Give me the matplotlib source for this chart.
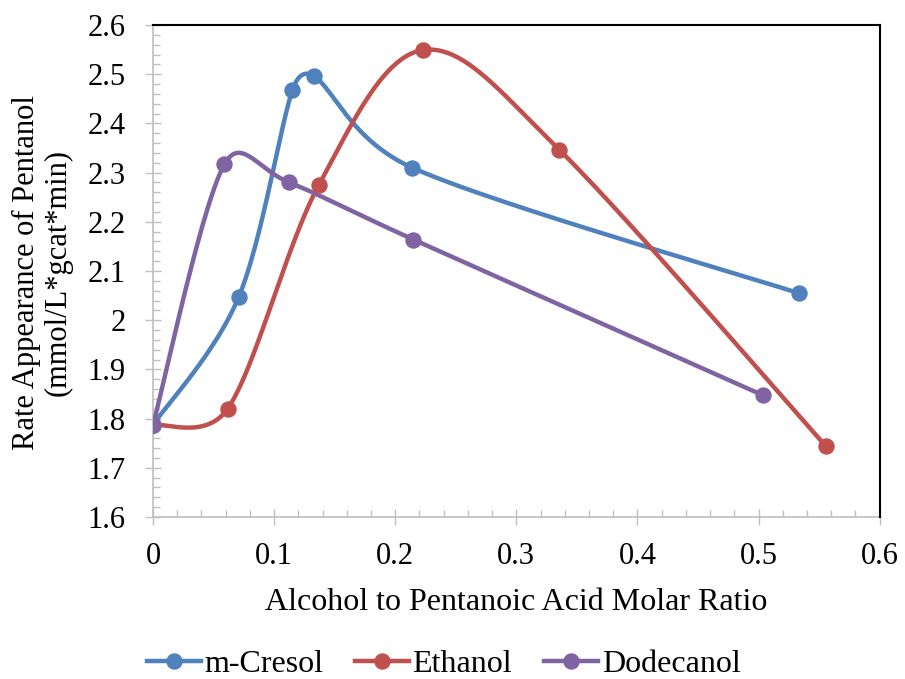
import numpy as np
import matplotlib.pyplot as plt
from matplotlib.ticker import MultipleLocator, FuncFormatter
from matplotlib.lines import Line2D

# data
cresol_x = [0, 0.0708, 0.1152, 0.133, 0.214, 0.533]
cresol_y = [1.787, 2.047, 2.468, 2.496, 2.310, 2.055]

ethanol_x = [0, 0.0617, 0.137, 0.2228, 0.3356, 0.5556]
ethanol_y = [1.787, 1.820, 2.275, 2.549, 2.346, 1.744]

dodecanol_x = [0, 0.059, 0.1125, 0.215, 0.504]
dodecanol_y = [1.787, 2.317, 2.280, 2.164, 1.847]

series = [
    ('m-Cresol', cresol_x, cresol_y, '#4F81BD'),
    ('Ethanol', ethanol_x, ethanol_y, '#C0504D'),
    ('Dodecanol', dodecanol_x, dodecanol_y, '#8064A2'),
]


def excel_smooth(ax, x, y, n=50):
    # Excel-like smoothed line: bezier, arm = min(d02/6, d12/2), done in screen space
    p = ax.transData.transform(np.column_stack([x, y]))
    m = len(p)
    t = np.linspace(0, 1, n)[1:, None]
    pts = [p[0]]
    for i in range(m - 1):
        p0 = p[i - 1] if i > 0 else p[i]
        p1, p2 = p[i], p[i + 1]
        p3 = p[i + 2] if i + 2 < m else p[i + 1]
        d12 = np.hypot(*(p2 - p1))
        d02 = np.hypot(*(p2 - p0))
        d13 = np.hypot(*(p3 - p1))
        f1 = min(1 / 6, d12 / (2 * d02)) if d02 > 0 else 0
        f2 = min(1 / 6, d12 / (2 * d13)) if d13 > 0 else 0
        c1 = p1 + (p2 - p0) * f1
        c2 = p2 - (p3 - p1) * f2
        seg = ((1 - t) ** 3) * p1 + 3 * ((1 - t) ** 2) * t * c1 \
            + 3 * (1 - t) * t ** 2 * c2 + t ** 3 * p2
        pts.extend(seg)
    pts = ax.transData.inverted().transform(np.array(pts))
    return pts[:, 0], pts[:, 1]


plt.rcParams['font.family'] = ['Liberation Serif', 'DejaVu Serif']
FS = 22
FS_TITLE = 23

fig = plt.figure(figsize=(9.05, 6.79), dpi=100)
ax = fig.add_axes([0.169, 0.2386, 0.803, 0.7246])
ax.set_xlim(0, 0.6)
ax.set_ylim(1.6, 2.6)

for name, x, y, c in series:
    sx, sy = excel_smooth(ax, x, y)
    ax.plot(sx, sy, color=c, lw=3.2, solid_capstyle='round', zorder=3)
    ax.plot(x, y, 'o', color=c, ms=10.8, zorder=4)

ax.xaxis.set_major_locator(MultipleLocator(0.1))
ax.xaxis.set_minor_locator(MultipleLocator(0.02))
ax.yaxis.set_major_locator(MultipleLocator(0.1))
ax.yaxis.set_minor_locator(MultipleLocator(0.02))
fmt = FuncFormatter(lambda v, pos: ('%.1f' % v).rstrip('0').rstrip('.') if abs(v) > 1e-9 else '0')
ax.xaxis.set_major_formatter(fmt)
ax.yaxis.set_major_formatter(fmt)

gray = '#BFBFBF'
for s in ['left', 'bottom']:
    ax.spines[s].set_color(gray)
    ax.spines[s].set_linewidth(1.2)
    ax.spines[s].set_zorder(2)
for s in ['top', 'right']:
    ax.spines[s].set_color('black')
    ax.spines[s].set_linewidth(1.5)

ax.tick_params(which='major', direction='inout', length=12, width=1.0,
               color=gray, labelsize=FS)
ax.tick_params(which='minor', direction='in', length=5, width=1.0, color=gray)
ax.tick_params(axis='y', which='major', pad=13.5)
ax.tick_params(axis='x', which='major', pad=12)

ax.set_xlabel('Alcohol to Pentanoic Acid Molar Ratio', fontsize=FS_TITLE, labelpad=12)
fig.text(42.5 / 905, 1 - 273 / 679, 'Rate Appearance of Pentanol\n(mmol/L*gcat*min)',
         rotation=90, ha='center', va='center', multialignment='center',
         fontsize=FS, linespacing=1.12)

handles = [Line2D([], [], color=c, lw=3.2, marker='o', ms=10.8) for _, _, _, c in series]
fig.legend(handles, [s[0] for s in series], loc='lower center',
           bbox_to_anchor=(0.49, -0.043), ncol=3, frameon=False, fontsize=FS_TITLE,
           handlelength=1.7, handletextpad=0.1, columnspacing=1.0)

fig.savefig('out.png', dpi=100)
